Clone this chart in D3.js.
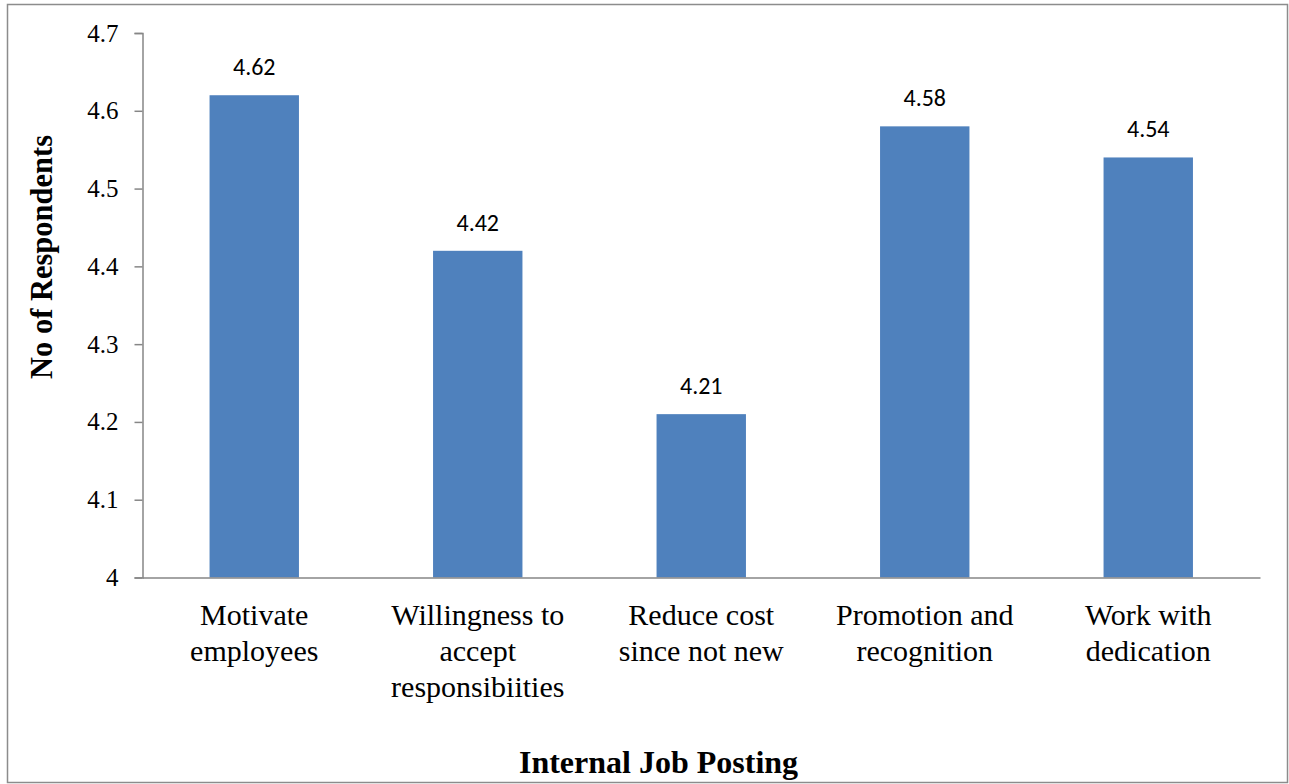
<!DOCTYPE html>
<html><head><meta charset="utf-8">
<script src="https://cdn.jsdelivr.net/npm/d3@7"></script>
<style>body{margin:0;background:#fff;} svg{display:block;}</style>
</head><body>
<script>
const categories = [["Motivate","employees"],["Willingness to","accept","responsibiities"],["Reduce cost","since not new"],["Promotion and","recognition"],["Work with","dedication"]];
const values = [4.62, 4.42, 4.21, 4.58, 4.54];
const yTicks = [4, 4.1, 4.2, 4.3, 4.4, 4.5, 4.6, 4.7];
const yTitle = "No of Respondents";
const xTitle = "Internal Job Posting";

(function(){
const W = 1289, H = 784;
const svg = d3.select("body").append("svg").attr("width", W).attr("height", H);
svg.append("rect").attr("x",7.5).attr("y",4.5).attr("width",1280).attr("height",778)
  .attr("fill","#fff").attr("stroke","#8c8c8c").attr("stroke-width",1.5);

const mLeft = 142.5, mRight = 1260, mTop = 33, mBottom = 577.5;
const x = d3.scaleBand().domain(d3.range(values.length)).range([mLeft, mRight]).padding(0);
const y = d3.scaleLinear().domain([4, 4.7]).range([mBottom, mTop]);
const barW = x.bandwidth()*0.4;

svg.selectAll("rect.bar").data(values).join("rect").attr("class","bar")
  .attr("x",(d,i)=>x(i)+x.bandwidth()/2-barW/2).attr("width",barW)
  .attr("y",d=>y(d)).attr("height",d=>y(4)-y(d)).attr("fill","#4F81BD");

svg.selectAll("text.val").data(values).join("text").attr("class","val")
  .attr("x",(d,i)=>x(i)+x.bandwidth()/2).attr("y",d=>y(d)-20)
  .attr("text-anchor","middle").attr("font-family","Carlito, 'Open Sans', 'Liberation Sans', sans-serif")
  .attr("font-size",24).attr("fill","#000").text(d=>d.toFixed(2));

const ya = svg.append("g").attr("transform",`translate(${mLeft},0)`)
  .call(d3.axisLeft(y).tickValues(yTicks).tickSize(8).tickPadding(16).tickFormat(d=>String(+d.toFixed(1))));
ya.select(".domain").attr("stroke","#868686").attr("stroke-width",1.5);
ya.selectAll(".tick line").attr("stroke","#868686").attr("stroke-width",1.5);
ya.selectAll(".tick text").attr("font-family","'Liberation Serif', 'Times New Roman', serif").attr("font-size",25).attr("fill","#000");

const xa = svg.append("g").attr("transform",`translate(0,${mBottom})`)
  .call(d3.axisBottom(x).tickSize(0).tickFormat(""));
xa.select(".domain").attr("stroke","#868686").attr("stroke-width",1.5);

categories.forEach((lines,i)=>{
  const t = svg.append("text").attr("text-anchor","middle")
    .attr("font-family","'Liberation Serif', 'Times New Roman', serif").attr("font-size",30).attr("fill","#000");
  lines.forEach((l,j)=>t.append("tspan").attr("x",x(i)+x.bandwidth()/2).attr("y",625+j*36).text(l));
});

svg.append("text").attr("transform","translate(52,257) rotate(-90)").attr("text-anchor","middle")
  .attr("font-family","'Liberation Serif', 'Times New Roman', serif").attr("font-weight","bold").attr("font-size",30.5).text(yTitle);
svg.append("text").attr("x",658.5).attr("y",773).attr("text-anchor","middle")
  .attr("font-family","'Liberation Serif', 'Times New Roman', serif").attr("font-weight","bold").attr("font-size",32).text(xTitle);
})();
</script>
</body></html>
